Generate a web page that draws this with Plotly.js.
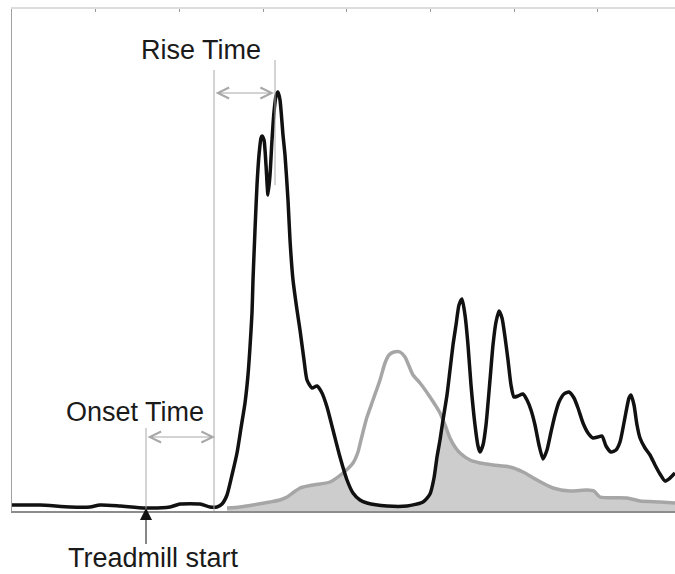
<!DOCTYPE html>
<html>
<head>
<meta charset="utf-8">
<script src="https://cdn.plot.ly/plotly-3.0.1.min.js"></script>
<style>html,body{margin:0;padding:0;background:#fff;}#chart{width:675px;height:574px;}</style>
</head>
<body>
<div id="chart"></div>
<script>
// Muscle activity (black) — time samples and amplitude
const emgTime = [0,28,58,78,88,108,133,158,168,188,198,205,210,215,220,225,229,233,236,238,240,241,243,245,247,249,250,252,254,256,258,260,262,264,266,268,271,273,276,278,281,285,288,292,295,300,305,310,315,321,328,335,341,348,355,375,395,411,418,422,425,428,431,435,438,441,444,447,450,453,456,459,463,466,468,471,474,478,481,484,487,490,493,496,499,502,506,511,515,519,523,527,531,535,539,543,547,552,557,562,566,571,576,581,586,590,594,599,604,608,611,614,617,619,622,625,628,633,638,643,648,653,658,663];
const emgAmp = [6,6,4,4,6,5,3,4,7,7,4,4,7,16,36,58,83,108,136,164,198,231,281,326,356,373,375,371,346,316,336,371,399,415,419,411,376,356,311,271,231,201,181,151,131,123,125,118,104,81,54,31,18,11,8,5,5,9,17,33,54,71,91,116,141,166,186,206,212,196,166,126,86,65,59,66,86,131,166,189,200,193,174,151,126,114,115,117,111,101,86,66,52,61,79,96,109,117,119,113,103,88,78,73,74,75,65,59,61,69,83,99,113,116,106,86,73,63,56,46,37,30,33,38];
// Second signal (grey) — time samples and amplitude
const refTime = [215,228,241,258,268,275,282,288,301,318,331,341,346,349,352,355,361,368,373,377,382,388,393,397,401,408,418,428,433,438,443,448,458,468,481,498,511,525,541,558,575,582,588,615,628,648,663];
const refAmp = [3,4,6,9,11,14,19,23,26,29,38,48,59,71,83,94,111,131,148,156,159,159,154,145,136,128,114,98,86,73,64,58,51,48,46,44,39,31,23,20,21,20,14,13,10,9,8];
// Event markers (time)
const treadmillStart = 134;
const onsetT = 203;
const peakT = 263;
const xMax = 663, yMax = 502, tickStep = 83.7;

const traces = [
  {x: refTime, y: refAmp, mode: 'lines', fill: 'tozeroy', fillcolor: '#cdcdcd', line: {width: 0}, hoverinfo: 'skip'},
  {x: [emgTime[0], emgTime[emgTime.length-1]], y: [yMax, yMax], mode: 'lines', line: {width: 0}, hoverinfo: 'skip'},
  {x: emgTime, y: emgAmp, mode: 'lines', fill: 'tonexty', fillcolor: '#ffffff', line: {width: 0}, hoverinfo: 'skip'},
  {x: refTime, y: refAmp, mode: 'lines', line: {color: '#a6a6a6', width: 3.5, shape: 'spline', smoothing: 0.6}},
  {x: emgTime, y: emgAmp, mode: 'lines', line: {color: '#111111', width: 3.5, shape: 'spline', smoothing: 0.6}},
  {x: [0, xMax], y: [0, 0], xaxis: 'x2', mode: 'lines', line: {width: 0}, hoverinfo: 'skip'}
];

const txtFont = {family: 'Liberation Sans, Arial, sans-serif', size: 27, color: '#1a1a1a'};
const gry = '#a8a8a8';

const layout = {
  width: 675, height: 574,
  margin: {l: 12, r: 0, t: 9, b: 63},
  paper_bgcolor: '#fff', plot_bgcolor: '#fff',
  showlegend: false,
  xaxis: {range: [0, xMax], showgrid: false, zeroline: false, showline: true, linecolor: '#8c8c8c', linewidth: 1.5, ticks: '', showticklabels: false},
  xaxis2: {range: [0, xMax], overlaying: 'x', side: 'top', showgrid: false, zeroline: false, showline: true, linecolor: '#dcdcdc', linewidth: 2, ticks: 'inside', ticklen: 3, tickcolor: '#999', tick0: 0, dtick: tickStep, showticklabels: false},
  yaxis: {range: [0, yMax], showgrid: false, zeroline: false, showline: true, linecolor: '#a0a0a0', linewidth: 1.5, ticks: '', showticklabels: false},
  shapes: [
    {type: 'line', xref: 'x', yref: 'y', x0: onsetT - 1, x1: onsetT - 1, y0: 0, y1: 441, line: {color: gry, width: 1}},
    {type: 'line', xref: 'x', yref: 'y', x0: treadmillStart, x1: treadmillStart, y0: 0, y1: 83, line: {color: gry, width: 1}},
    {type: 'line', xref: 'x', yref: 'y', x0: peakT, x1: peakT, y0: 326, y1: 451, line: {color: gry, width: 1}}
  ],
  annotations: [
    {x: peakT - 1, y: 418, ax: onsetT - 1, ay: 418, axref: 'x', ayref: 'y', xref: 'x', yref: 'y', text: ' ', font: {size: 1},
     showarrow: true, arrowside: 'end+start', arrowhead: 5, startarrowhead: 5, arrowsize: 2.2, startarrowsize: 2.2, arrowwidth: 1, arrowcolor: gry, standoff: 0, startstandoff: 0},
    {x: onsetT, y: 74, ax: treadmillStart, ay: 74, axref: 'x', ayref: 'y', xref: 'x', yref: 'y', text: ' ', font: {size: 1},
     showarrow: true, arrowside: 'end+start', arrowhead: 5, startarrowhead: 5, arrowsize: 2.2, startarrowsize: 2.2, arrowwidth: 1, arrowcolor: gry, standoff: 0, startstandoff: 0},
    {x: treadmillStart, y: 3, xref: 'x', yref: 'y', ax: 0, ay: 38, text: ' ', font: {size: 1},
     showarrow: true, arrowhead: 2, arrowsize: 2.4, arrowwidth: 1, arrowcolor: '#111', standoff: 0},
    {x: 189, y: 461, xref: 'x', yref: 'y', yanchor: 'middle', text: 'Rise Time', showarrow: false, font: txtFont},
    {x: 123, y: 99, xref: 'x', yref: 'y', yanchor: 'middle', text: 'Onset Time', showarrow: false, font: txtFont},
    {x: 141, y: -0.094, xref: 'x', yref: 'paper', yanchor: 'middle', text: 'Treadmill start', showarrow: false, font: txtFont}
  ]
};

Plotly.newPlot('chart', traces, layout, {displayModeBar: false, staticPlot: true});
</script>
</body>
</html>
